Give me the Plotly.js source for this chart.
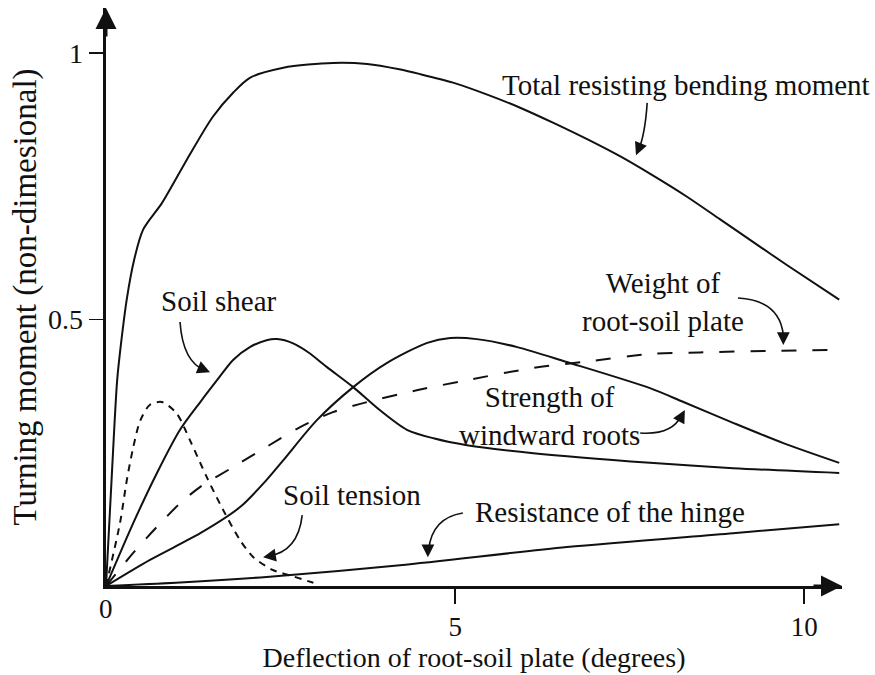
<!DOCTYPE html>
<html>
<head>
<meta charset="utf-8">
<script src="https://cdn.plot.ly/plotly-3.0.1.min.js"></script>
<style>
  html, body { margin: 0; padding: 0; background: #ffffff; }
  #chart { width: 875px; height: 675px; }
</style>
</head>
<body>
<div id="chart"></div>
<script>
// Deflection of the root-soil plate (degrees) and the non-dimensional turning
// moment contributed by each resisting component.
const totalX = [0, 0.08, 0.16, 0.22, 0.3, 0.4, 0.53, 0.8, 1.16, 1.53, 1.82, 2.06, 2.54, 3.25, 3.74, 4.2, 4.5, 4.97, 5.45, 5.93, 6.4, 6.89, 7.36, 7.83, 8.32, 8.79, 9.27, 9.75, 10.5];
const totalY = [0, 0.2, 0.386, 0.46, 0.54, 0.61, 0.668, 0.718, 0.8, 0.88, 0.925, 0.953, 0.972, 0.981, 0.979, 0.969, 0.96, 0.944, 0.922, 0.897, 0.869, 0.838, 0.806, 0.77, 0.73, 0.688, 0.645, 0.602, 0.537];

const shearX = [0, 0.39, 0.73, 1.06, 1.35, 1.59, 1.82, 2.06, 2.3, 2.45, 2.68, 2.9, 3.16, 3.54, 3.92, 4.31, 4.69, 5.17, 6.12, 7.79, 8.98, 10.5];
const shearY = [0, 0.118, 0.212, 0.293, 0.345, 0.386, 0.424, 0.448, 0.461, 0.463, 0.455, 0.438, 0.411, 0.373, 0.33, 0.293, 0.277, 0.264, 0.249, 0.231, 0.221, 0.212];

const rootsX = [0, 0.63, 1.35, 1.92, 2.3, 2.54, 3.02, 3.54, 4.02, 4.6, 4.93, 5.31, 5.89, 6.6, 7.79, 8.27, 8.98, 9.7, 10.5];
const rootsY = [0, 0.049, 0.099, 0.148, 0.199, 0.236, 0.311, 0.373, 0.418, 0.456, 0.465, 0.463, 0.448, 0.42, 0.371, 0.345, 0.306, 0.268, 0.231];

const weightX = [0, 0.39, 0.73, 1.06, 1.35, 1.82, 2.3, 2.78, 3.25, 3.74, 4.45, 5.17, 6.12, 6.83, 7.79, 8.5, 9.5, 10.5];
const weightY = [0, 0.062, 0.111, 0.155, 0.186, 0.223, 0.261, 0.298, 0.326, 0.345, 0.367, 0.386, 0.409, 0.42, 0.435, 0.438, 0.441, 0.443];

const tensionX = [0, 0.2, 0.3, 0.39, 0.49, 0.63, 0.8, 1.01, 1.2, 1.44, 1.68, 1.92, 2.11, 2.39, 2.68, 2.97];
const tensionY = [0, 0.118, 0.2, 0.26, 0.31, 0.34, 0.345, 0.324, 0.274, 0.205, 0.142, 0.086, 0.054, 0.03, 0.018, 0.006];

const hingeX = [0, 1, 2.3, 4.21, 6.6, 8.98, 10.5];
const hingeY = [0, 0.006, 0.017, 0.039, 0.073, 0.099, 0.116];

const xTicks = [5, 10];
const yTicks = [0.5, 1];
const yTickText = ['0.5', '1'];

const SERIF = 'Liberation Serif, Times New Roman, serif';
const INK = '#111111';

function curve(x, y, dash) {
  return {
    x: x, y: y, type: 'scatter', mode: 'lines',
    line: { color: INK, width: 2, shape: 'spline', smoothing: 0.8, dash: dash || 'solid' },
    hoverinfo: 'skip', showlegend: false
  };
}

const data = [
  curve(hingeX, hingeY),
  curve(tensionX, tensionY, '7px,6px'),
  curve(weightX, weightY, '15px,16px'),
  curve(shearX, shearY),
  curve(rootsX, rootsY),
  curve(totalX, totalY)
];

function label(text, x, y) {
  return { text: text, x: x, y: y, xref: 'x', yref: 'y', showarrow: false,
           xanchor: 'center', yanchor: 'middle', align: 'center',
           font: { family: SERIF, size: 29, color: INK } };
}

// Arrowhead at the end of a curved leader; (ax, ay) points back along the leader.
function head(x, y, ax, ay) {
  return { x: x, y: y, xref: 'x', yref: 'y', text: '', showarrow: true,
           ax: ax, ay: ay, arrowhead: 2, arrowsize: 1.6, arrowwidth: 1.6,
           arrowcolor: INK, standoff: 0 };
}

// Curved leaders from each label to its curve (quadratic paths in data units).
function leader(x0, y0, cx, cy, x1, y1) {
  return { type: 'path', xref: 'x', yref: 'y',
           path: `M ${x0} ${y0} Q ${cx} ${cy} ${x1} ${y1}`,
           line: { color: INK, width: 1.6 } };
}

const XMAX = 10.54, YMAX = 1.084;

const layout = {
  width: 875, height: 675,
  margin: { l: 106, r: 33, t: 8, b: 89 },
  paper_bgcolor: '#ffffff', plot_bgcolor: '#ffffff',
  font: { family: SERIF, size: 28, color: INK },
  showlegend: false,
  xaxis: {
    range: [0, XMAX], showgrid: false, zeroline: false,
    showline: true, linecolor: INK, linewidth: 3,
    tickmode: 'array', tickvals: xTicks, ticktext: xTicks.map(String),
    ticks: 'outside', ticklen: 15, tickwidth: 2, tickcolor: INK,
    tickfont: { family: SERIF, size: 27, color: INK },
    title: { text: 'Deflection of root-soil plate (degrees)', standoff: 6,
             font: { family: SERIF, size: 28, color: INK } }
  },
  yaxis: {
    range: [0, YMAX], showgrid: false, zeroline: false,
    showline: true, linecolor: INK, linewidth: 3.5,
    tickmode: 'array', tickvals: yTicks, ticktext: yTickText,
    ticks: 'outside', ticklen: 14, tickwidth: 1.6, tickcolor: INK,
    tickfont: { family: SERIF, size: 28, color: INK },
    title: { text: 'Turning moment (non-dimesional)', standoff: 2,
             font: { family: SERIF, size: 33, color: INK } }
  },
  shapes: [
    leader(7.75, 0.906, 7.72, 0.846, 7.62, 0.815),   // total
    leader(1.06, 0.495, 1.10, 0.420, 1.42, 0.404),   // soil shear
    leader(9.05, 0.540, 9.65, 0.536, 9.70, 0.470),   // weight
    leader(7.65, 0.287, 8.11, 0.283, 8.24, 0.320),   // windward roots
    leader(2.81, 0.133, 2.75, 0.064, 2.32, 0.056),   // soil tension
    leader(5.11, 0.137, 4.67, 0.128, 4.62, 0.068)    // hinge
  ],
  annotations: [
    label('Total resisting bending moment', 8.31, 0.939),
    label('Soil shear', 1.625, 0.534),
    label('Weight of<br>root-soil plate', 7.97, 0.532),
    label('Strength of<br>windward roots', 6.35, 0.318),
    label('Soil tension', 3.52, 0.171),
    label('Resistance of the hinge', 7.22, 0.139),
    head(7.59, 0.808, 5, -12),
    head(1.49, 0.401, -12, -5),
    head(9.70, 0.452, 0, -12),
    head(8.29, 0.330, -6, 11),
    head(2.25, 0.054, 12, -2),
    head(4.61, 0.054, 0, -12),
    // axis arrows
    { x: 0, y: YMAX, xref: 'x', yref: 'y', text: '', showarrow: true, ax: 0, ay: 30,
      arrowhead: 2, arrowsize: 1.4, arrowwidth: 3, arrowcolor: INK, standoff: 0 },
    { x: XMAX, y: 0, xref: 'x', yref: 'y', text: '', showarrow: true, ax: -30, ay: 0,
      arrowhead: 2, arrowsize: 1.4, arrowwidth: 3, arrowcolor: INK, standoff: 0 },
    // origin label
    { x: 0, y: 0, xref: 'x', yref: 'y', text: '0', showarrow: false,
      xanchor: 'center', yanchor: 'top', yshift: -6,
      font: { family: SERIF, size: 27, color: INK } }
  ]
};

Plotly.newPlot('chart', data, layout, { displayModeBar: false, staticPlot: true });
</script>
</body>
</html>
